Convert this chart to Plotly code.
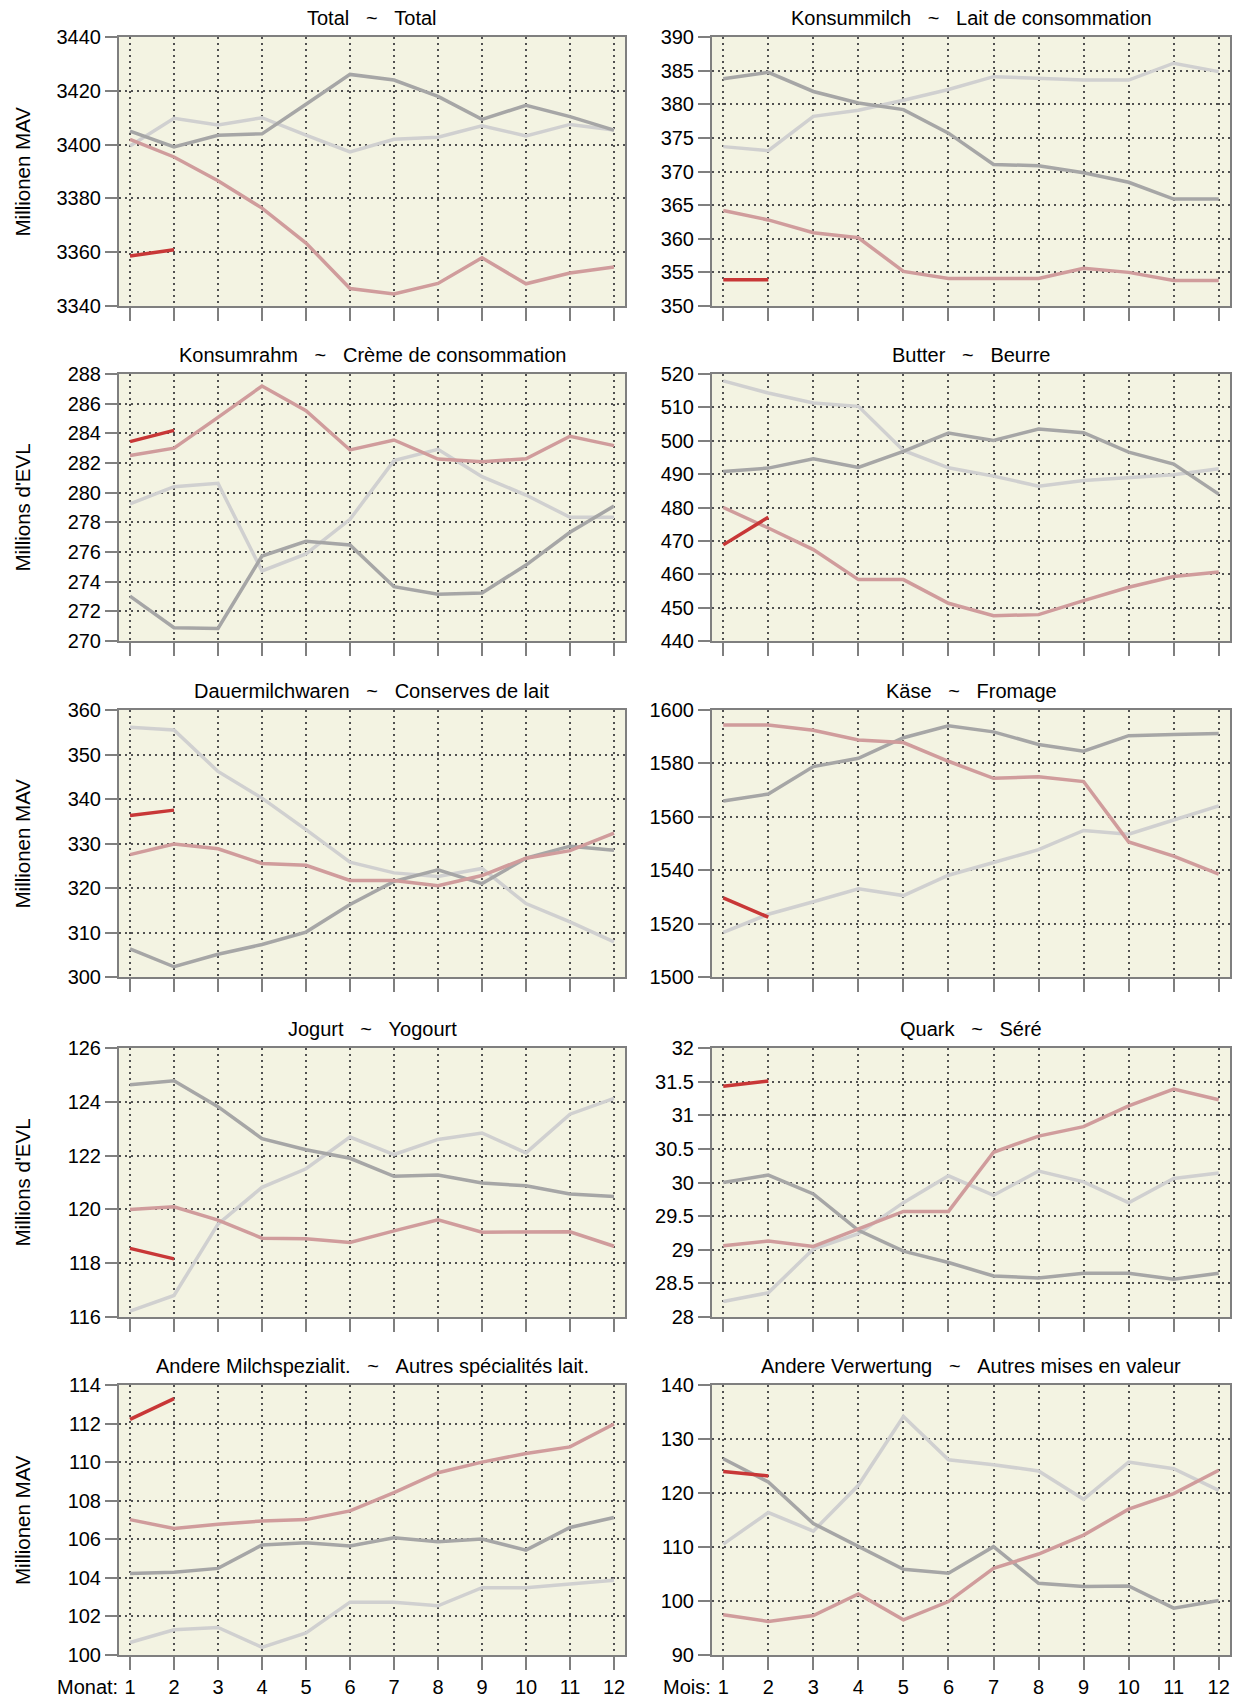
import plotly.graph_objects as go

# ---------------- data ----------------
months = list(range(1, 13))
month_labels = [str(m) for m in months]

panel_titles = [
    "Total   ~   Total",
    "Konsummilch   ~   Lait de consommation",
    "Konsumrahm   ~   Crème de consommation",
    "Butter   ~   Beurre",
    "Dauermilchwaren   ~   Conserves de lait",
    "Käse   ~   Fromage",
    "Jogurt   ~   Yogourt",
    "Quark   ~   Séré",
    "Andere Milchspezialit.   ~   Autres spécialités lait.",
    "Andere Verwertung   ~   Autres mises en valeur",
]
row_ytitles = ["Millionen MAV", "Millions d'EVL", "Millionen MAV", "Millions d'EVL", "Millionen MAV"]

# series: dark grey (older year), light grey, pink (previous year), red (current year)
total_dark = [3405, 3399.1, 3403.5, 3404, 3415, 3426.1, 3424, 3417.9, 3409.4, 3414.6, 3410.4, 3405.4]
total_light = [3399.5, 3409.75, 3407.25, 3410, 3403.5, 3397.25, 3402, 3402.75, 3407, 3403.25, 3407.5, 3405.4]
total_pink = [3401.9, 3395.4, 3386.6, 3376.4, 3363.4, 3346.5, 3344.5, 3348.4, 3357.9, 3348.25, 3352.25, 3354.5]
total_red = [3358.6, 3360.9]

milch_dark = [383.8, 384.75, 381.9, 380.2, 379.2, 375.7, 371.05, 370.85, 369.8, 368.4, 365.9, 365.9]
milch_light = [373.7, 373.1, 378.2, 379.1, 380.6, 382.2, 384.1, 383.9, 383.6, 383.6, 386.1, 384.85]
milch_pink = [364.2, 362.8, 360.9, 360.15, 355.15, 354.1, 354.1, 354.1, 355.6, 355.0, 353.8, 353.8]
milch_red = [353.9, 353.9]

rahm_dark = [273.03, 270.9, 270.85, 275.73, 276.72, 276.47, 273.66, 273.15, 273.24, 275.12, 277.33, 279.1]
rahm_light = [279.24, 280.4, 280.63, 274.72, 275.87, 278.2, 282.16, 282.92, 281.08, 279.84, 278.34, 278.34]
rahm_pink = [282.5, 283.0, 285.08, 287.19, 285.53, 282.88, 283.55, 282.27, 282.09, 282.29, 283.8, 283.17]
rahm_red = [283.44, 284.2]

butter_dark = [490.8, 491.8, 494.6, 492.0, 496.8, 502.3, 500.1, 503.5, 502.4, 496.6, 493.0, 484.0]
butter_light = [517.95, 514.3, 511.3, 510.3, 497.1, 491.9, 489.4, 486.4, 488.1, 488.9, 489.8, 491.6]
butter_pink = [480.0, 473.85, 467.4, 458.4, 458.4, 451.3, 447.6, 447.9, 452.1, 456.1, 459.3, 460.7]
butter_red = [468.8, 477.1]

dauer_dark = [306.3, 302.3, 305.1, 307.3, 310.1, 316.3, 321.5, 324.1, 321.0, 326.7, 329.4, 328.5]
dauer_light = [356.1, 355.5, 346.2, 340.2, 333.1, 325.8, 323.4, 322.6, 324.4, 316.5, 312.4, 307.9]
dauer_pink = [327.5, 329.9, 328.8, 325.5, 325.1, 321.7, 321.7, 320.5, 322.8, 326.7, 328.4, 332.35]
dauer_red = [336.3, 337.5]

kaese_dark = [1565.9, 1568.5, 1578.8, 1581.9, 1589.6, 1594.1, 1591.8, 1587.1, 1584.6, 1590.4, 1590.8, 1591.2]
kaese_light = [1516.7, 1523.5, 1528.2, 1533.0, 1530.5, 1538.1, 1542.9, 1547.7, 1554.9, 1553.5, 1558.8, 1564.1]
kaese_pink = [1594.4, 1594.4, 1592.4, 1588.8, 1587.8, 1580.8, 1574.4, 1575.0, 1573.2, 1550.6, 1545.3, 1538.5]
kaese_red = [1529.6, 1522.4]

jogurt_dark = [124.63, 124.78, 123.82, 122.63, 122.22, 121.9, 121.23, 121.28, 120.98, 120.88, 120.57, 120.48]
jogurt_light = [116.22, 116.8, 119.45, 120.82, 121.51, 122.69, 122.04, 122.6, 122.84, 122.1, 123.54, 124.13]
jogurt_pink = [120.0, 120.1, 119.6, 118.93, 118.91, 118.77, 119.2, 119.61, 119.15, 119.15, 119.17, 118.63]
jogurt_red = [118.55, 118.16]

quark_dark = [30.0, 30.11, 29.83, 29.29, 28.98, 28.81, 28.61, 28.58, 28.65, 28.65, 28.56, 28.65]
quark_light = [28.23, 28.36, 29.01, 29.24, 29.70, 30.10, 29.81, 30.17, 30.01, 29.70, 30.06, 30.14]
quark_pink = [29.06, 29.13, 29.05, 29.31, 29.57, 29.57, 30.45, 30.69, 30.83, 31.14, 31.39, 31.23]
quark_red = [31.43, 31.51]

spez_dark = [104.22, 104.29, 104.49, 105.70, 105.82, 105.65, 106.08, 105.87, 106.01, 105.44, 106.61, 107.13]
spez_light = [100.65, 101.31, 101.43, 100.40, 101.14, 102.74, 102.74, 102.55, 103.49, 103.49, 103.68, 103.87]
spez_pink = [107.02, 106.56, 106.78, 106.95, 107.02, 107.47, 108.42, 109.45, 110.0, 110.45, 110.79, 111.98]
spez_red = [112.22, 113.29]

verw_dark = [126.35, 122.04, 114.35, 110.05, 105.87, 105.13, 110.05, 103.28, 102.67, 102.79, 98.67, 100.09]
verw_light = [110.54, 116.38, 112.94, 121.43, 134.16, 126.16, 125.24, 124.07, 118.84, 125.73, 124.5, 120.5]
verw_pink = [97.44, 96.21, 97.32, 101.32, 96.52, 99.9, 106.05, 108.7, 112.2, 117.0, 119.89, 124.2]
verw_red = [124.0, 123.15]

# y-axis tick values per panel
total_ticks = [3340, 3360, 3380, 3400, 3420, 3440]
milch_ticks = [350, 355, 360, 365, 370, 375, 380, 385, 390]
rahm_ticks = [270, 272, 274, 276, 278, 280, 282, 284, 286, 288]
butter_ticks = [440, 450, 460, 470, 480, 490, 500, 510, 520]
dauer_ticks = [300, 310, 320, 330, 340, 350, 360]
kaese_ticks = [1500, 1520, 1540, 1560, 1580, 1600]
jogurt_ticks = [116, 118, 120, 122, 124, 126]
quark_ticks = [28, 28.5, 29, 29.5, 30, 30.5, 31, 31.5, 32]
quark_ticklabels = ["28", "28.5", "29", "29.5", "30", "30.5", "31", "31.5", "32"]
spez_ticks = [100, 102, 104, 106, 108, 110, 112, 114]
verw_ticks = [90, 100, 110, 120, 130, 140]

panels = [
    (total_dark, total_light, total_pink, total_red, total_ticks, None),
    (milch_dark, milch_light, milch_pink, milch_red, milch_ticks, None),
    (rahm_dark, rahm_light, rahm_pink, rahm_red, rahm_ticks, None),
    (butter_dark, butter_light, butter_pink, butter_red, butter_ticks, None),
    (dauer_dark, dauer_light, dauer_pink, dauer_red, dauer_ticks, None),
    (kaese_dark, kaese_light, kaese_pink, kaese_red, kaese_ticks, None),
    (jogurt_dark, jogurt_light, jogurt_pink, jogurt_red, jogurt_ticks, None),
    (quark_dark, quark_light, quark_pink, quark_red, quark_ticks, quark_ticklabels),
    (spez_dark, spez_light, spez_pink, spez_red, spez_ticks, None),
    (verw_dark, verw_light, verw_pink, verw_red, verw_ticks, None),
]

# ---------------- style / layout ----------------
W, H = 1244, 1699
FONT = "Liberation Sans, Arial, sans-serif"
C_DARK = "#A6A6A6"
C_LIGHT = "#D0D0D0"
C_PINK = "#D09C9C"
C_RED = "#C83737"
BG = "#F3F3E2"
AXC = "#7F7F7F"
GRIDC = "#505050"
FS = 20

col_px = [(119, 625), (712, 1230)]
row_px = [(37, 306), (374, 641), (710, 977), (1048, 1317), (1385, 1655)]

fig = go.Figure()
layout = dict(
    width=W, height=H,
    margin=dict(l=0, r=0, t=0, b=0, autoexpand=False),
    paper_bgcolor="white",
    plot_bgcolor=BG,
    showlegend=False,
    font=dict(family=FONT, size=FS, color="black"),
)
annotations = []

for i, (dark, light, pink, red, yt, ytl) in enumerate(panels):
    r, c = divmod(i, 2)
    n = i + 1
    xs = "" if n == 1 else str(n)
    xref, yref = "x" + xs, "y" + xs
    for vals, col, xvals in ((light, C_LIGHT, months), (dark, C_DARK, months),
                             (pink, C_PINK, months), (red, C_RED, months[:len(red)])):
        fig.add_trace(go.Scatter(x=xvals, y=vals, mode="lines", xaxis=xref, yaxis=yref,
                                 line=dict(color=col, width=3.5), hoverinfo="skip"))
    x0, x1 = col_px[c]
    y0, y1 = row_px[r]
    bottom = (r == 4)
    layout["xaxis" + xs] = dict(
        domain=[x0 / W, x1 / W], anchor=yref, range=[0.75, 12.25], automargin=False,
        tickmode="array", tickvals=months, ticktext=month_labels,
        showticklabels=bottom, ticks="outside", ticklen=13, tickwidth=2, tickcolor=AXC,
        ticklabelstandoff=0,
        showline=True, mirror=True, linecolor=AXC, linewidth=2,
        showgrid=True, gridcolor=GRIDC, griddash="2px,4px", gridwidth=1.6,
        zeroline=False, tickfont=dict(size=FS), fixedrange=True,
    )
    layout["yaxis" + xs] = dict(
        domain=[1 - y1 / H, 1 - y0 / H], anchor=xref, range=[yt[0], yt[-1]], automargin=False,
        tickmode="array", tickvals=yt, ticktext=ytl if ytl else [str(v) for v in yt],
        ticks="outside", ticklen=12, tickwidth=2, tickcolor=AXC,
        showline=True, mirror=True, linecolor=AXC, linewidth=2,
        showgrid=True, gridcolor=GRIDC, griddash="2px,4px", gridwidth=1.6,
        zeroline=False, tickfont=dict(size=FS), fixedrange=True,
    )
    annotations.append(dict(
        text=panel_titles[i].replace(" ", "\u00a0"), xref=xref + " domain", yref=yref + " domain",
        x=0.5, y=1, xanchor="center", yanchor="middle", yshift=19, showarrow=False,
        font=dict(size=FS),
    ))
    if c == 0:
        annotations.append(dict(
            text=row_ytitles[r], xref="paper", yref=yref + " domain", x=22 / W, y=0.5,
            xanchor="center", yanchor="middle", textangle=-90, showarrow=False,
            font=dict(size=20.5),
        ))
    if bottom:
        annotations.append(dict(
            text="Monat:" if c == 0 else "Mois:", xref=xref, yref=yref + " domain",
            x=months[0], y=0, xanchor="right", yanchor="middle", xshift=-10, yshift=-32,
            showarrow=False, font=dict(size=FS),
        ))

layout["annotations"] = annotations
fig.update_layout(**layout)
fig.write_html("out.html", config={"displayModeBar": False},
               post_script="document.body.style.margin='0px';")
